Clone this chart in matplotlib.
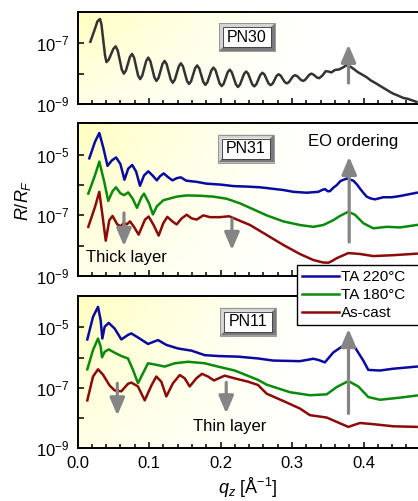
import numpy as np
import matplotlib
matplotlib.use('Agg')
import matplotlib.pyplot as plt
from matplotlib.ticker import MultipleLocator, FixedLocator, NullFormatter
from matplotlib.patches import Polygon, Rectangle
from matplotlib.transforms import IdentityTransform

plt.rcParams['font.family'] = ['Liberation Sans', 'DejaVu Sans']
plt.rcParams['mathtext.fontset'] = 'custom'
plt.rcParams['mathtext.rm'] = 'Liberation Sans'
plt.rcParams['mathtext.it'] = 'Liberation Sans:italic'
plt.rcParams['mathtext.bf'] = 'Liberation Sans:bold'

# ---- data: q in 1/A, value = log10(R/RF) ----
pn30_q = [0.018, 0.024, 0.028, 0.0315, 0.0335, 0.0385, 0.0405, 0.0437, 0.0502, 0.0534,
          0.0563, 0.062, 0.0648, 0.0677, 0.0733, 0.0762, 0.0791, 0.0847, 0.0876, 0.0905,
          0.0961, 0.099, 0.1019, 0.1075, 0.1104, 0.1133, 0.1189, 0.1218, 0.1247, 0.1303,
          0.1332, 0.1361, 0.1417, 0.1446, 0.1475, 0.1531, 0.156, 0.1589, 0.1645, 0.1674,
          0.1703, 0.1759, 0.1788, 0.1817, 0.1873, 0.1902, 0.1931, 0.1987, 0.2016, 0.2045,
          0.2101, 0.213, 0.2159, 0.2215, 0.2244, 0.2273, 0.2329, 0.2358, 0.2387, 0.2443,
          0.2472, 0.2501, 0.2557, 0.2586, 0.2615, 0.2671, 0.27, 0.2729, 0.2785, 0.2814,
          0.2843, 0.2899, 0.2928, 0.2957, 0.3013, 0.3042, 0.3071, 0.3127, 0.3156, 0.3185,
          0.3241, 0.327, 0.330, 0.335, 0.338, 0.343, 0.347, 0.351, 0.355, 0.360,
          0.366, 0.371, 0.3765, 0.381, 0.386, 0.392, 0.398, 0.4045, 0.410, 0.416,
          0.423, 0.430, 0.437, 0.4417, 0.448, 0.4557, 0.462, 0.468, 0.474]
pn30_log = [-6.95, -6.55, -6.27, -6.2, -6.38, -7.4, -7.62, -7.54, -7.18, -7.1,
            -7.24, -7.87, -8.0, -7.9, -7.45, -7.35, -7.47, -8.06, -8.18, -8.07,
            -7.58, -7.47, -7.59, -8.12, -8.24, -8.14, -7.68, -7.58, -7.69, -8.19,
            -8.3, -8.2, -7.76, -7.66, -7.76, -8.24, -8.34, -8.25, -7.82, -7.73,
            -7.83, -8.27, -8.37, -8.28, -7.89, -7.8, -7.89, -8.32, -8.41, -8.33,
            -7.95, -7.87, -7.96, -8.35, -8.44, -8.36, -8.01, -7.93, -8.0, -8.35,
            -8.42, -8.35, -8.04, -7.97, -8.03, -8.32, -8.38, -8.33, -8.07, -8.02,
            -8.07, -8.28, -8.32, -8.28, -8.09, -8.05, -8.08, -8.21, -8.24, -8.2,
            -8.04, -8.0, -8.03, -8.13, -8.15, -8.05, -7.92, -7.93, -7.96, -7.88,
            -7.86, -7.8, -7.72, -7.76, -7.84, -7.95, -8.03, -8.12, -8.22, -8.3,
            -8.4, -8.5, -8.6, -8.66, -8.72, -8.8, -8.83, -8.88, -8.93]

pn31_220_q = [0.0165, 0.0245, 0.0305, 0.036, 0.042, 0.048, 0.054, 0.060, 0.0657, 0.071,
              0.0765, 0.082, 0.0874, 0.093, 0.099, 0.105, 0.111, 0.1155, 0.1205, 0.127,
              0.133, 0.1385, 0.1445, 0.152, 0.1667, 0.1807, 0.200, 0.218, 0.240, 0.2552,
              0.2878, 0.3018, 0.3205, 0.3368, 0.342, 0.346, 0.350, 0.353, 0.358, 0.3625,
              0.368, 0.3765, 0.3857, 0.391, 0.395, 0.400, 0.4045, 0.410, 0.416, 0.4277,
              0.4394, 0.451, 0.4744]
pn31_220_log = [-5.11, -4.56, -4.27, -4.75, -5.36, -5.18, -5.08, -5.3, -5.82, -5.45,
                -5.33, -5.55, -6.02, -5.68, -5.54, -5.68, -5.84, -5.7, -5.61, -5.74,
                -5.84, -5.77, -5.74, -5.85, -5.89, -5.95, -5.98, -6.03, -6.05, -6.07,
                -6.16, -6.22, -6.25, -6.22, -6.16, -6.13, -6.2, -6.2, -6.08, -6.0,
                -5.86, -5.78, -5.85, -5.98, -6.11, -6.26, -6.38, -6.44, -6.47, -6.4,
                -6.4, -6.36, -6.25]

pn31_180_q = [0.0151, 0.0245, 0.0305, 0.0375, 0.043, 0.049, 0.0538, 0.060, 0.065, 0.071,
              0.0772, 0.0832, 0.0895, 0.093, 0.100, 0.1055, 0.111, 0.120, 0.1387, 0.1527,
              0.1713, 0.190, 0.2087, 0.227, 0.2459, 0.2646, 0.2878, 0.311, 0.3298, 0.3438,
              0.3578, 0.367, 0.3788, 0.388, 0.3997, 0.4137, 0.4324, 0.451, 0.4744]
pn31_180_log = [-6.28, -5.67, -5.22, -5.9, -6.52, -6.2, -6.07, -6.27, -6.33, -6.24,
                -6.45, -6.75, -6.4, -6.28, -6.6, -6.97, -6.7, -6.5, -6.38, -6.34,
                -6.35, -6.38, -6.45, -6.6, -6.8, -7.0, -7.2, -7.32, -7.38, -7.32,
                -7.16, -7.02, -6.88, -6.98, -7.26, -7.43, -7.38, -7.40, -7.32]

pn31_cast_q = [0.0151, 0.0245, 0.0305, 0.0352, 0.0395, 0.0445, 0.049, 0.0557, 0.0604, 0.065,
               0.069, 0.0734, 0.079, 0.0855, 0.0944, 0.0995, 0.106, 0.1135, 0.120, 0.1256,
               0.1332, 0.1387, 0.1457, 0.1527, 0.1597, 0.1667, 0.176, 0.1853, 0.1993, 0.212,
               0.2413, 0.2646, 0.2878, 0.311, 0.3298, 0.343, 0.351, 0.357, 0.3625, 0.3788,
               0.395, 0.4137, 0.4417, 0.4744]
pn31_cast_log = [-7.38, -6.72, -6.22, -7.05, -7.84, -7.16, -7.02, -7.3, -7.36, -7.25,
                 -7.3, -7.2, -7.38, -7.64, -7.14, -7.04, -7.3, -7.67, -7.26, -7.05,
                 -7.21, -7.3, -7.1, -6.98, -7.1, -7.14, -7.0, -7.06, -7.06, -7.03,
                 -7.32, -7.65, -7.98, -8.28, -8.48, -8.56, -8.57, -8.5, -8.42, -8.25,
                 -8.28, -8.35, -8.32, -8.27]

pn11_220_q = [0.0137, 0.0217, 0.0287, 0.0324, 0.0347, 0.038, 0.0436, 0.052, 0.0613, 0.0706,
              0.0753, 0.087, 0.0986, 0.1126, 0.1242, 0.1406, 0.1592, 0.1779, 0.1965, 0.2245,
              0.2524, 0.2738, 0.311, 0.3298, 0.337, 0.346, 0.3578, 0.3765, 0.388, 0.3997,
              0.4067, 0.423, 0.4417, 0.4744]
pn11_220_log = [-5.40, -4.65, -4.32, -4.76, -5.37, -4.98, -4.85, -5.04, -5.40, -5.25,
                -5.20, -5.37, -5.55, -5.42, -5.58, -5.70, -5.77, -5.92, -5.95, -5.97,
                -6.03, -6.10, -6.12, -6.04, -6.08, -6.16, -5.83, -5.53, -5.66, -6.10,
                -6.41, -6.43, -6.37, -6.30]

pn11_180_q = [0.0137, 0.0217, 0.0287, 0.0324, 0.0343, 0.038, 0.0436, 0.052, 0.0613, 0.0706,
              0.0776, 0.0846, 0.0916, 0.0986, 0.1102, 0.122, 0.136, 0.1545, 0.1779, 0.1965,
              0.2198, 0.2524, 0.2646, 0.2972, 0.3252, 0.3485, 0.3625, 0.3788, 0.3928, 0.4067,
              0.423, 0.451, 0.4744]
pn11_180_log = [-6.39, -5.75, -5.37, -5.64, -5.99, -5.81, -5.73, -5.84, -5.95, -6.03,
                -6.41, -6.85, -6.52, -6.19, -6.24, -6.30, -6.19, -6.14, -6.19, -6.30,
                -6.43, -6.74, -6.9, -7.15, -7.25, -7.22, -6.98, -6.78, -6.96, -7.31,
                -7.40, -7.33, -7.26]

pn11_cast_q = [0.0137, 0.0217, 0.0287, 0.0357, 0.045, 0.052, 0.0613, 0.0706, 0.0753, 0.0846,
               0.094, 0.1033, 0.1102, 0.1172, 0.1242, 0.1336, 0.143, 0.150, 0.1569, 0.1662,
               0.1741, 0.1825, 0.1909, 0.2059, 0.2198, 0.2385, 0.2524, 0.2646, 0.2878, 0.311,
               0.325, 0.3485, 0.3788, 0.395, 0.4137, 0.4417, 0.4744]
pn11_cast_log = [-7.42, -6.63, -6.39, -6.57, -6.93, -7.09, -7.12, -6.87, -6.83, -6.96,
                 -7.42, -6.93, -6.63, -6.80, -7.29, -6.85, -6.58, -6.69, -6.96, -6.69,
                 -6.54, -6.63, -6.76, -6.60, -6.69, -6.80, -6.91, -7.2, -7.44, -7.69,
                 -7.91, -7.99, -8.30, -8.17, -8.21, -8.28, -8.30]

series_labels = ['TA 220\u00b0C', 'TA 180\u00b0C', 'As-cast']
series_colors = ['#0a0aa0', '#0a8a0a', '#8b0a0a']

W, H = 418, 501
fig = plt.figure(figsize=(W / 100, H / 100), dpi=100)

left = 77.5 / W
xmax = (W - 77.5) / 715.0   # axis is cut by the right edge of the picture


def make_ax(top_px, bot_px, ylim, majors, minors):
    ax = fig.add_axes([left, (H - bot_px) / H, 1 - left, (bot_px - top_px) / H])
    # pale yellow wash, fading to white towards the right / bottom
    u = np.linspace(0, 1, 300)[None, :]
    v = np.linspace(1, 0, 120)[:, None]
    a = np.clip(1 - 1.4 * u, 0, 1) ** 1.3 * (0.35 + 0.65 * v)
    img = np.ones((120, 300, 4))
    img[..., 2] = 1 - 0.25 * a
    ax.imshow(img, extent=[0, 1, 0, 1], transform=ax.transAxes, aspect='auto',
              zorder=0, interpolation='bilinear')
    ax.set_yscale('log')
    ax.set_xlim(0, xmax)
    ax.set_ylim(*ylim)
    ax.spines['right'].set_visible(False)
    ax.xaxis.set_major_locator(MultipleLocator(0.1))
    ax.xaxis.set_minor_locator(MultipleLocator(0.02))
    ax.yaxis.set_major_locator(FixedLocator(majors))
    ax.yaxis.set_minor_locator(FixedLocator(minors))
    ax.yaxis.set_minor_formatter(NullFormatter())
    ax.tick_params(which='both', direction='in', top=False, right=False,
                   labelsize=12, width=1.1)
    ax.tick_params(axis='y', which='both', length=4.5, pad=6)
    ax.tick_params(axis='x', which='major', length=4.5, pad=6)
    ax.tick_params(axis='x', which='minor', length=2.8)
    for s in ax.spines.values():
        s.set_linewidth(1.4)
    return ax


ax1 = make_ax(12.3, 104, (1e-9, 1.05e-6), [1e-9, 1e-7], [1e-8])
ax2 = make_ax(123, 275.7, (1e-9, 1.15e-4), [1e-9, 1e-7, 1e-5], [1e-8, 1e-6])
ax3 = make_ax(296, 448, (1e-9, 1.1e-4), [1e-9, 1e-7, 1e-5], [1e-8, 1e-6])
ax1.tick_params(axis='x', labelbottom=False)
ax2.tick_params(axis='x', labelbottom=False)

lw = 1.8
ax1.plot(pn30_q, 10 ** np.array(pn30_log), color='#333333', lw=lw, zorder=3,
         solid_joinstyle='round')

panel2 = [(pn31_220_q, pn31_220_log), (pn31_180_q, pn31_180_log), (pn31_cast_q, pn31_cast_log)]
panel3 = [(pn11_220_q, pn11_220_log), (pn11_180_q, pn11_180_log), (pn11_cast_q, pn11_cast_log)]
handles = []
for (q, lg), c, lab in zip(panel2, series_colors, series_labels):
    h, = ax2.plot(q, 10 ** np.array(lg), color=c, lw=lw, zorder=3, label=lab,
                  solid_joinstyle='round')
    handles.append(h)
for (q, lg), c in zip(panel3, series_colors):
    ax3.plot(q, 10 ** np.array(lg), color=c, lw=lw, zorder=3, solid_joinstyle='round')

# gray arrows
arrow_kw = dict(arrowstyle='-|>,head_length=0.75,head_width=0.32', color='#858585',
                lw=2.3, mutation_scale=14, shrinkA=0, shrinkB=0)
ax1.annotate('', xy=(0.379, 9e-8), xytext=(0.379, 4.9e-9), arrowprops=arrow_kw, zorder=4)
ax2.annotate('', xy=(0.38, 8.7e-6), xytext=(0.38, 1.3e-8), arrowprops=arrow_kw, zorder=4)
ax2.annotate('', xy=(0.065, 9.6e-9), xytext=(0.065, 1.2e-7), arrowprops=arrow_kw, zorder=4)
ax2.annotate('', xy=(0.216, 7.1e-9), xytext=(0.216, 7.5e-8), arrowprops=arrow_kw, zorder=4)
ax3.annotate('', xy=(0.379, 8.9e-6), xytext=(0.379, 1.4e-8), arrowprops=arrow_kw, zorder=4)
ax3.annotate('', xy=(0.0557, 1.2e-8), xytext=(0.0557, 1.4e-7), arrowprops=arrow_kw, zorder=4)
ax3.annotate('', xy=(0.208, 1.4e-8), xytext=(0.208, 1.5e-7), arrowprops=arrow_kw, zorder=4)

ax2.text(0.386, 2.7e-5, 'EO ordering', ha='center', va='center', fontsize=12)
ax2.text(0.012, 3.9e-9, 'Thick layer', ha='left', va='center', fontsize=12)
ax3.text(0.213, 5e-9, 'Thin layer', ha='center', va='center', fontsize=12)


def pn_box(cx, cy, label):
    w, h, b = 56, 28, 4
    x0, x1 = cx - w / 2, cx + w / 2
    yt, yb = H - (cy - h / 2), H - (cy + h / 2)
    t = IdentityTransform()
    light = [(x0, yb), (x0, yt), (x1, yt), (x1 - b, yt - b), (x0 + b, yt - b), (x0 + b, yb + b)]
    dark = [(x0, yb), (x1, yb), (x1, yt), (x1 - b, yt - b), (x1 - b, yb + b), (x0 + b, yb + b)]
    fig.add_artist(Polygon(light, closed=True, fc='#d4d4d4', ec='none', transform=t, zorder=6))
    fig.add_artist(Polygon(dark, closed=True, fc='#7a7a7a', ec='none', transform=t, zorder=6))
    fig.add_artist(Rectangle((x0, yb), w, h, fc='none', ec='#8a8a8a', lw=0.6, transform=t, zorder=7))
    fig.add_artist(Rectangle((x0 + b, yb + b), w - 2 * b, h - 2 * b, fc='white', ec='#303030',
                             lw=0.6, transform=t, zorder=7))
    fig.text(cx, H - cy, label, transform=t, ha='center', va='center', fontsize=11.5, zorder=8)


pn_box(247, 37, 'PN30')
pn_box(246, 148.5, 'PN31')
pn_box(248, 321.7, 'PN11')

leg = fig.legend(handles=handles, labels=series_labels, loc='upper left',
                 bbox_to_anchor=(297 / W, (H - 265) / H, 0.5, 0), mode='expand',
                 borderaxespad=0, fancybox=False, edgecolor='black', framealpha=1,
                 fontsize=11, handlelength=2.4, handletextpad=0.15, labelspacing=0.25,
                 borderpad=0.35)
leg.get_frame().set_linewidth(1.0)
leg.set_zorder(10)

fig.text(23 / W, (H - 200) / H, r'$R/R_F$', rotation=90, ha='center', va='center', fontsize=13)
fig.text(248 / W, (H - 488) / H, r'$q_z$ [Å$^{-1}$]', ha='center', va='center', fontsize=13)

fig.savefig('out.png', dpi=100)
